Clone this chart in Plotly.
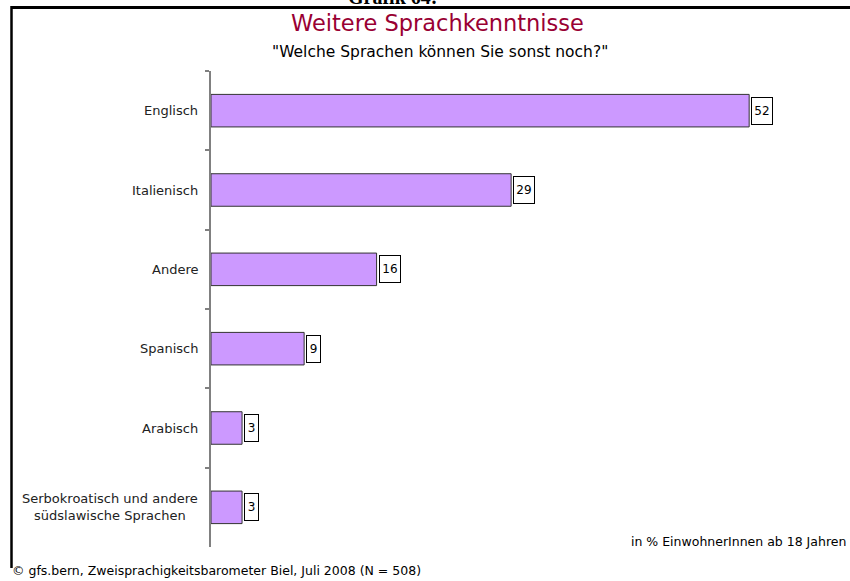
import plotly.graph_objects as go

categories = ["Englisch", "Italienisch", "Andere", "Spanisch", "Arabisch",
              "Serbokroatisch und andere<br>südslawische Sprachen"]
values = [52, 29, 16, 9, 3, 3]
value_labels = ["52", "29", "16", "9", "3", "3"]

title_text = "Weitere Sprachkenntnisse"
subtitle_text = '"Welche Sprachen können Sie sonst noch?"'
header_text = "Grafik 64:"
unit_note = "in % EinwohnerInnen ab 18 Jahren"
source_note = "© gfs.bern, Zweisprachigkeitsbarometer Biel, Juli 2008 (N = 508)"

W, H = 850, 581
FONT = "DejaVu Sans, sans-serif"

def px(x):
    return x / W

def py(y):
    return 1 - y / H

fig = go.Figure()
fig.add_trace(go.Bar(
    x=values, y=categories, orientation="h",
    width=0.41,
    marker=dict(color="#CC99FF", line=dict(color="#333333", width=1)),
    hoverinfo="skip",
))

annotations = []
for cat, v, lab in zip(categories, values, value_labels):
    annotations.append(dict(
        x=v, y=cat, xref="x", yref="y", text=lab, showarrow=False,
        xanchor="left", yanchor="middle", xshift=2,
        bgcolor="white", bordercolor="black", borderwidth=1, borderpad=1,
        width=7 * len(lab) + 4, height=24,
        font=dict(family=FONT, size=12, color="black"),
    ))
    annotations.append(dict(
        x=px(200), y=cat, xref="paper", yref="y", text=cat, showarrow=False,
        xanchor="right", yanchor="middle", align="center",
        font=dict(family=FONT, size=13, color="#222222"),
    ))

annotations += [
    dict(x=px(437), y=py(23), xref="paper", yref="paper", text=title_text,
         showarrow=False, xanchor="center", yanchor="middle",
         font=dict(family=FONT, size=22.5, color="#990033")),
    dict(x=px(440), y=py(52), xref="paper", yref="paper", text=subtitle_text,
         showarrow=False, xanchor="center", yanchor="middle",
         font=dict(family=FONT, size=15.5, color="black")),
    dict(x=px(392), y=py(10), xref="paper", yref="paper", text="<b>" + header_text + "</b>",
         showarrow=False, xanchor="center", yanchor="bottom",
         font=dict(family="Liberation Serif, serif", size=20, color="black")),
    dict(x=px(848), y=py(541), xref="paper", yref="paper", text=unit_note,
         showarrow=False, xanchor="right", yanchor="middle",
         font=dict(family=FONT, size=12.5, color="black")),
    dict(x=px(10), y=py(570), xref="paper", yref="paper", text=source_note,
         showarrow=False, xanchor="left", yanchor="middle",
         font=dict(family=FONT, size=12.5, color="black")),
]

shapes = [
    dict(type="line", xref="paper", yref="paper", x0=px(11), x1=1.0,
         y0=py(7.5), y1=py(7.5), line=dict(color="black", width=3)),
    dict(type="line", xref="paper", yref="paper", x0=px(11.5), x1=px(11.5),
         y0=py(6), y1=py(568), line=dict(color="black", width=2.5)),
]

fig.update_layout(
    width=W, height=H,
    margin=dict(l=0, r=0, t=0, b=0),
    paper_bgcolor="white", plot_bgcolor="white",
    showlegend=False,
    annotations=annotations,
    shapes=shapes,
    xaxis=dict(domain=[px(211), px(833)], range=[0, 60.1], visible=False),
    yaxis=dict(domain=[py(547), py(71)], type="category",
               range=[5.5, -0.5], showticklabels=False,
               tickson="boundaries", ticks="outside", ticklen=4, tickwidth=1.5,
               tickcolor="#808080", showline=True, linecolor="#808080",
               linewidth=1.5, showgrid=False, zeroline=False),
)

fig.write_html(
    "out.html",
    config={"displayModeBar": False},
    post_script="document.body.style.margin='0';document.body.style.overflow='hidden';",
)
